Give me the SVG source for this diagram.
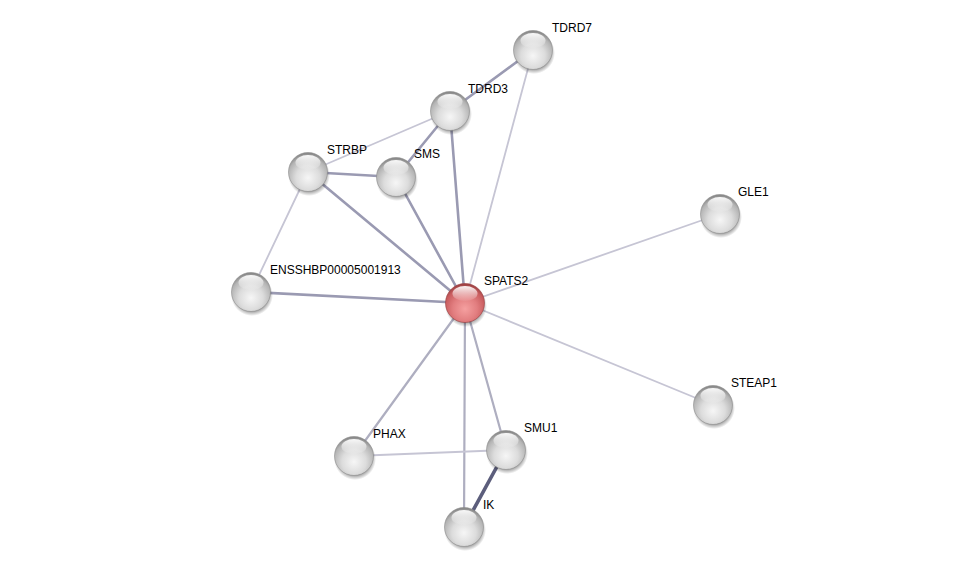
<svg xmlns="http://www.w3.org/2000/svg" width="976" height="572" viewBox="0 0 976 572">
<defs>
<radialGradient id="gGray" cx="0.5" cy="0.65" r="0.62">
<stop offset="0" stop-color="#f6f6f6"/>
<stop offset="0.5" stop-color="#dcdcdc"/>
<stop offset="0.85" stop-color="#b4b4b4"/>
<stop offset="1" stop-color="#8a8a8a"/>
</radialGradient>
<radialGradient id="gRed" cx="0.5" cy="0.65" r="0.62">
<stop offset="0" stop-color="#f5a0a0"/>
<stop offset="0.5" stop-color="#e27e80"/>
<stop offset="0.85" stop-color="#c85c5e"/>
<stop offset="1" stop-color="#a04446"/>
</radialGradient>
<linearGradient id="gHi" x1="0" y1="0" x2="0" y2="1">
<stop offset="0" stop-color="#ffffff" stop-opacity="0.95"/>
<stop offset="1" stop-color="#ffffff" stop-opacity="0.05"/>
</linearGradient>
<radialGradient id="gShadow" cx="0.5" cy="0.5" r="0.5">
<stop offset="0.75" stop-color="#000" stop-opacity="0.4"/>
<stop offset="1" stop-color="#000" stop-opacity="0"/>
</radialGradient>
<g id="sphere">
<circle cx="1" cy="3" r="21" fill="url(#gShadow)"/>
<circle r="19.5" fill="url(#gGray)" stroke="#8c8c8c" stroke-width="0.6"/>
<ellipse cx="0" cy="-9.5" rx="12.5" ry="7.5" fill="url(#gHi)"/>
</g>
<g id="sphereRed">
<circle cx="1" cy="3" r="21" fill="url(#gShadow)"/>
<circle r="19.5" fill="url(#gRed)" stroke="#983c3e" stroke-width="0.6"/>
<ellipse cx="0" cy="-9.5" rx="12.5" ry="7.5" fill="url(#gHi)"/>
</g>
</defs>
<style>
.l1{stroke:#c6c5d4;stroke-width:1.8}
.l2{stroke:#aeaec0;stroke-width:2.2}
.l3{stroke:#9a9ab2;stroke-width:2.6}
.l4{stroke:#5c5e7c;stroke-width:3.6}
text{font-family:"Liberation Sans",Arial,sans-serif;font-size:12px;fill:#000}
</style>
<rect width="976" height="572" fill="#ffffff"/>
<g id="connectors" fill="none" stroke-linecap="round">
<line class="l1" x1="465" y1="303" x2="533" y2="50"/>
<line class="l3" x1="465" y1="303" x2="450" y2="111"/>
<line class="l3" x1="465" y1="303" x2="396" y2="177"/>
<line class="l3" x1="465" y1="303" x2="308" y2="172"/>
<line class="l3" x1="465" y1="303" x2="251" y2="292"/>
<line class="l1" x1="465" y1="303" x2="720" y2="214"/>
<line class="l1" x1="465" y1="303" x2="713" y2="405"/>
<line class="l2" x1="465" y1="303" x2="354" y2="456"/>
<line class="l2" x1="465" y1="303" x2="506" y2="450"/>
<line class="l2" x1="465" y1="303" x2="464" y2="527"/>
<line class="l3" x1="450" y1="111" x2="533" y2="50"/>
<line class="l1" x1="450" y1="111" x2="308" y2="172"/>
<line class="l3" x1="450" y1="111" x2="396" y2="177"/>
<line class="l3" x1="308" y1="172" x2="396" y2="177"/>
<line class="l1" x1="308" y1="172" x2="251" y2="292"/>
<line class="l1" x1="354" y1="456" x2="506" y2="450"/>
<line class="l4" x1="506" y1="450" x2="464" y2="527"/>
</g>
<g id="TDRD7"><use href="#sphere" x="533" y="50"/><text x="552" y="32">TDRD7</text></g>
<g id="TDRD3"><use href="#sphere" x="450" y="111"/><text x="468" y="93">TDRD3</text></g>
<g id="STRBP"><use href="#sphere" x="308" y="172"/><text x="327" y="154">STRBP</text></g>
<g id="SMS"><use href="#sphere" x="396" y="177"/><text x="414" y="158">SMS</text></g>
<g id="GLE1"><use href="#sphere" x="720" y="214"/><text x="738" y="196">GLE1</text></g>
<g id="ENSSHBP00005001913"><use href="#sphere" x="251" y="292"/><text x="270" y="274">ENSSHBP00005001913</text></g>
<g id="SPATS2"><use href="#sphereRed" x="465" y="303"/><text x="484" y="285">SPATS2</text></g>
<g id="STEAP1"><use href="#sphere" x="713" y="405"/><text x="731" y="387">STEAP1</text></g>
<g id="PHAX"><use href="#sphere" x="354" y="456"/><text x="373" y="438">PHAX</text></g>
<g id="SMU1"><use href="#sphere" x="506" y="450"/><text x="524" y="432">SMU1</text></g>
<g id="IK"><use href="#sphere" x="464" y="527"/><text x="483" y="509">IK</text></g>
</svg>
